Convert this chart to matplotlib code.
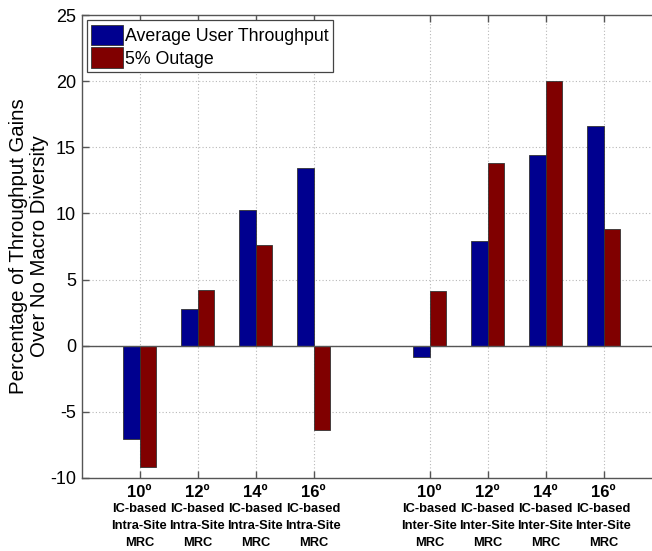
import matplotlib
matplotlib.use("Agg")
import matplotlib.pyplot as plt
import matplotlib.transforms as mtransforms
import numpy as np

plt.rcParams['font.family'] = ['Liberation Sans', 'DejaVu Sans']

positions = [1, 2, 3, 4, 6, 7, 8, 9]
angles = ["10º", "12º", "14º", "16º", "10º", "12º", "14º", "16º"]
schemes = ["IC-based\nIntra-Site\nMRC"] * 4 + ["IC-based\nInter-Site\nMRC"] * 4
avg_throughput = [-7.05, 2.77, 10.25, 13.45, -0.85, 7.9, 14.45, 16.6]
outage_5pct = [-9.15, 4.2, 7.65, -6.35, 4.14, 13.8, 20.0, 8.85]
series_names = ["Average User Throughput", "5% Outage"]
yticks = [-10, -5, 0, 5, 10, 15, 20, 25]

W, H = 652, 551
fig = plt.figure(figsize=(W / 100, H / 100), dpi=100)
left, top, bottom = 81.5, 15, 478
axw = 580
ax = fig.add_axes([left / W, (H - bottom) / H, axw / W, (bottom - top) / H])

bw = 0.285
x = np.array(positions, dtype=float)
blue = '#00008F'
red = '#800000'
ax.bar(x - bw / 2, avg_throughput, width=bw, color=blue, edgecolor='#333333',
       linewidth=0.6, label=series_names[0], zorder=3)
ax.bar(x + bw / 2, outage_5pct, width=bw, color=red, edgecolor='#333333',
       linewidth=0.6, label=series_names[1], zorder=3)

ax.axhline(0, color='#555555', linewidth=1.0, zorder=4)

ax.set_xlim(0, 10)
ax.set_ylim(-10, 25)
ax.set_yticks(yticks)
ax.set_yticklabels([str(v) for v in yticks], fontsize=13)
ax.set_xticks(positions)
ax.set_xticklabels(angles, fontsize=12, fontweight='bold')

ax.tick_params(axis='both', direction='in', length=5, width=1, color='#555555',
               top=True, right=True)
ax.tick_params(axis='x', pad=5)
ax.tick_params(axis='y', pad=4)
for s in ax.spines.values():
    s.set_color('#555555')
    s.set_linewidth(1.0)

ax.grid(True, linestyle=(0, (1, 2)), color='#b8b8b8', linewidth=0.8, zorder=0)
ax.set_axisbelow(True)

trans = mtransforms.blended_transform_factory(ax.transData, fig.transFigure)
for xp, txt in zip(positions, schemes):
    ax.text(xp, (H - 503.5) / H, txt, transform=trans, ha='center', va='top',
            fontsize=9.3, fontweight='bold', linespacing=1.54)

ax.set_ylabel("Percentage of Throughput Gains\nOver No Macro Diversity",
              fontsize=14.7, linespacing=1.12)
ax.yaxis.set_label_coords((29 - left) / axw, 0.5)
ax.yaxis.label.set_verticalalignment('center')

leg = ax.legend(loc='upper left', fontsize=12.8, fancybox=False, framealpha=1,
                edgecolor='#444444', borderaxespad=0.3, handlelength=1.8,
                handleheight=1.4, handletextpad=0.1, borderpad=0.25,
                labelspacing=0.12)
leg.get_frame().set_linewidth(0.9)

fig.savefig("out.png", dpi=100)
